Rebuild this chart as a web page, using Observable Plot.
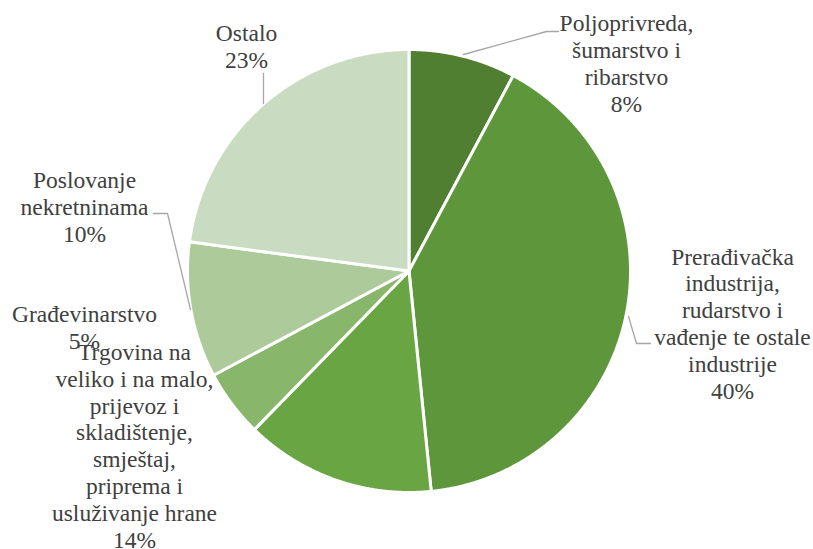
<!DOCTYPE html>
<html>
<head>
<meta charset="utf-8">
<script src="https://cdn.jsdelivr.net/npm/d3@7"></script>
<script src="https://cdn.jsdelivr.net/npm/@observablehq/plot@0.6"></script>
<style>
  html, body { margin: 0; padding: 0; background: #ffffff; }
</style>
</head>
<body>
<div id="chart"></div>
<script>
// ---- data ----
const categories = [
  "Poljoprivreda, šumarstvo i ribarstvo",
  "Prerađivačka industrija, rudarstvo i vađenje te ostale industrije",
  "Trgovina na veliko i na malo, prijevoz i skladištenje, smještaj, priprema i usluživanje hrane",
  "Građevinarstvo",
  "Poslovanje nekretninama",
  "Ostalo"
];
const labelLines = [
  ["Poljoprivreda,", "šumarstvo i", "ribarstvo"],
  ["Prerađivačka", "industrija,", "rudarstvo i", "vađenje te ostale", "industrije"],
  ["Trgovina na", "veliko i na malo,", "prijevoz i", "skladištenje,", "smještaj,", "priprema i", "usluživanje hrane"],
  ["Građevinarstvo"],
  ["Poslovanje", "nekretninama"],
  ["Ostalo"]
];
const values = [7.8, 40.6, 13.9, 4.9, 9.9, 22.9];
const percentLabels = ["8%", "40%", "14%", "5%", "10%", "23%"];
const colors = ["#507f32", "#5e963b", "#6aa544", "#88b76c", "#adca9b", "#c9dcc2"];

// ---- layout (pixels) ----
const W = 813, H = 549;
const cx = 408.5, cy = 270.5, R = 221.5;
const fontSize = 23.5, lineH = 26.8;
// label block: center x and baseline of the last line
const labelPos = [
  {x: 626, y: 111},
  {x: 732, y: 398},
  {x: 134, y: 547},
  {x: 84, y: 348},
  {x: 84, y: 241},
  {x: 246, y: 67}
];
const leaders = [
  [[463, 54], [546, 31], [558, 31]],
  [[628, 316], [636, 343], [650, 343]],
  null,
  null,
  [[153, 213], [167, 213], [190, 309]],
  [[263, 73], [263, 103]]
];

// ---- slices from d3.pie ----
const arcs = d3.pie().sort(null).value(d => d.value)(
  categories.map((c, i) => ({cat: c, value: values[i]}))
);
const slicePts = [];
arcs.forEach(a => {
  const c = a.data.cat;
  slicePts.push({cat: c, x: cx, y: cy});
  const steps = Math.max(2, Math.ceil((a.endAngle - a.startAngle) / 0.005));
  for (let k = 0; k <= steps; k++) {
    const t = a.startAngle + (a.endAngle - a.startAngle) * k / steps;
    slicePts.push({cat: c, x: cx + R * Math.sin(t), y: cy - R * Math.cos(t)});
  }
  slicePts.push({cat: c, x: cx, y: cy});
});

// ---- label lines ----
const textRows = [];
categories.forEach((c, i) => {
  const lines = labelLines[i].concat([percentLabels[i]]);
  const n = lines.length;
  lines.forEach((t, j) => {
    textRows.push({text: t, x: labelPos[i].x, y: labelPos[i].y - (n - 1 - j) * lineH});
  });
});

const leaderPts = [];
leaders.forEach((L, i) => {
  if (!L) return;
  L.forEach(p => leaderPts.push({id: i, x: p[0], y: p[1]}));
});

const chart = Plot.plot({
  width: W,
  height: H,
  margin: 0,
  x: {domain: [0, W], range: [0, W], axis: null},
  y: {domain: [0, H], range: [0, H], axis: null},
  color: {domain: categories, range: colors},
  marks: [
    Plot.line(slicePts, {
      x: "x", y: "y", z: "cat", fill: "cat",
      stroke: "#ffffff", strokeWidth: 3, strokeLinejoin: "round", curve: "linear"
    }),
    Plot.line(leaderPts, {
      x: "x", y: "y", z: "id", stroke: "#a6a6a6", strokeWidth: 1.3, curve: "linear"
    }),
    Plot.text(textRows, {
      x: "x", y: "y", text: "text", lineAnchor: "bottom", textAnchor: "middle",
      fill: "#404040", fontSize: fontSize, fontFamily: "Liberation Serif"
    })
  ]
});
document.getElementById("chart").appendChild(chart);
</script>
</body>
</html>
